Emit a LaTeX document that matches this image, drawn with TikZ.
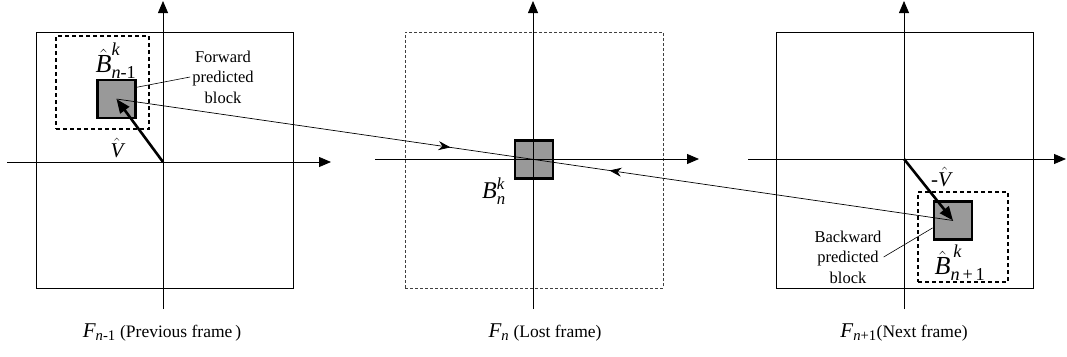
\documentclass[tikz,border=0pt]{standalone}
\usepackage{amsmath}
\usepackage{fontspec}
\setmainfont{Liberation Serif}
\usepackage{tikz}
\usetikzlibrary{arrows.meta, positioning, calc, decorations.markings}
\definecolor{blockgray}{RGB}{153,153,153}
\newcommand{\tv}[1]{\textit{#1}}

\begin{document}
\begin{tikzpicture}[x=1pt, y=-1pt,
  frm/.style={draw, line width=0.8pt, minimum width=257pt, minimum height=256pt, inner sep=0pt},
  lost/.style={draw=black!75, line width=0.8pt, dash pattern=on 3pt off 2pt},
  srch/.style={draw, line width=1.4pt, dash pattern=on 4pt off 3pt, inner sep=0pt},
  blk/.style={draw, line width=2.8pt, fill=blockgray, minimum size=38pt, inner sep=0pt},
  ax/.style={line width=0.8pt, -{Triangle[length=12pt, width=10pt]}},
  mv/.style={line width=2.6pt, -{Triangle[length=14pt, width=11pt]}},
  link/.style={line width=0.7pt, postaction={decorate},
    decoration={markings, mark=at position #1 with {\arrow{Stealth[length=12pt, width=9pt]}}}},
  lead/.style={line width=0.6pt},
  txt/.style={font=\fontsize{16.5}{20.5}\selectfont, align=center, inner sep=2pt},
  frmcap/.style={font=\fontsize{17.5}{20}\selectfont, inner sep=0pt},
  lbl/.style={font=\fontsize{26}{30}\selectfont, inner sep=0pt},
  vlbl/.style={font=\fontsize{21}{24}\selectfont, inner sep=0pt}]
\useasboundingbox (0,0) rectangle (1067,356);

% frames and search windows
\node[frm] (fr1) at (164.5,160) {};
\node[frm, lost, minimum width=258pt] (fr2) at (534,160) {};
\node[frm] (fr3) at (904.5,160) {};
\node[srch, minimum size=93pt] (srch1) at (102.5,82.5) {};
\node[srch, minimum size=90pt] (srch3) at (963,237) {};

% blocks
\node[blk] (blk1) at (116.5,99) {};
\node[blk] (blk2) at (534,159.5) {};
\node[blk] (blk3) at (953,220.5) {};

% axes
\foreach \i/\ox/\oy/\xl/\xr in {1/163/162/7/331, 2/533/159/375/699, 3/904/159/748/1066} {
  \coordinate (o\i) at (\ox,\oy);
  \draw[ax] (\xl,\oy) -- (\xr,\oy);
  \draw[ax] (\ox,309) -- (\ox,1);
}

% prediction lines
\draw[link=0.8] (blk1.center) -- (blk2.center);
\draw[link=0.82] (blk3.center) -- (blk2.center);

% motion vectors
\draw[mv] (o1) -- (blk1.center);
\draw[mv] (o3) -- (blk3.center);

% labels
\node[txt] (fwd) at (223,77) {Forward\\predicted\\block};
\node[txt] (bwd) at (848,257) {Backward\\predicted\\block};
\draw[lead] (blk1.30) -- (fwd.west);
\draw[lead] (bwd.east) -- (blk3.200);

\node[lbl] (lb1) at (116,61) {$\hat{\tv{B}}^{\tv{k}}_{\tv{n}\text{-1}}$};
\node[vlbl] (lv1) at (117,148) {$\hat{\tv{V}}$};
\node[lbl, font=\fontsize{24}{28}\selectfont] (lb2) at (494,191) {$\tv{B}^{\tv{k}}_{\tv{n}}$};
\node[vlbl] (lv3) at (941,177) {$\text{-}\hat{\tv{V}}$};
\node[lbl] (lb3) at (960,263) {$\hat{\tv{B}}^{\,\tv{k}}_{\tv{n}\,\text{+}\,\text{1}}$};

\node[frmcap] (cap1) at (162,332) {{\fontsize{21}{24}\selectfont$\tv{F}_{\tv{n}\text{-1}}$} (Previous frame\,)};
\node[frmcap] (cap2) at (545,332) {{\fontsize{21}{24}\selectfont$\tv{F}_{\tv{n}}$} (Lost frame)};
\node[frmcap] (cap3) at (904,332) {{\fontsize{21}{24}\selectfont$\tv{F}_{\tv{n}\text{+1}}$}(Next frame)};
\end{tikzpicture}
\end{document}
